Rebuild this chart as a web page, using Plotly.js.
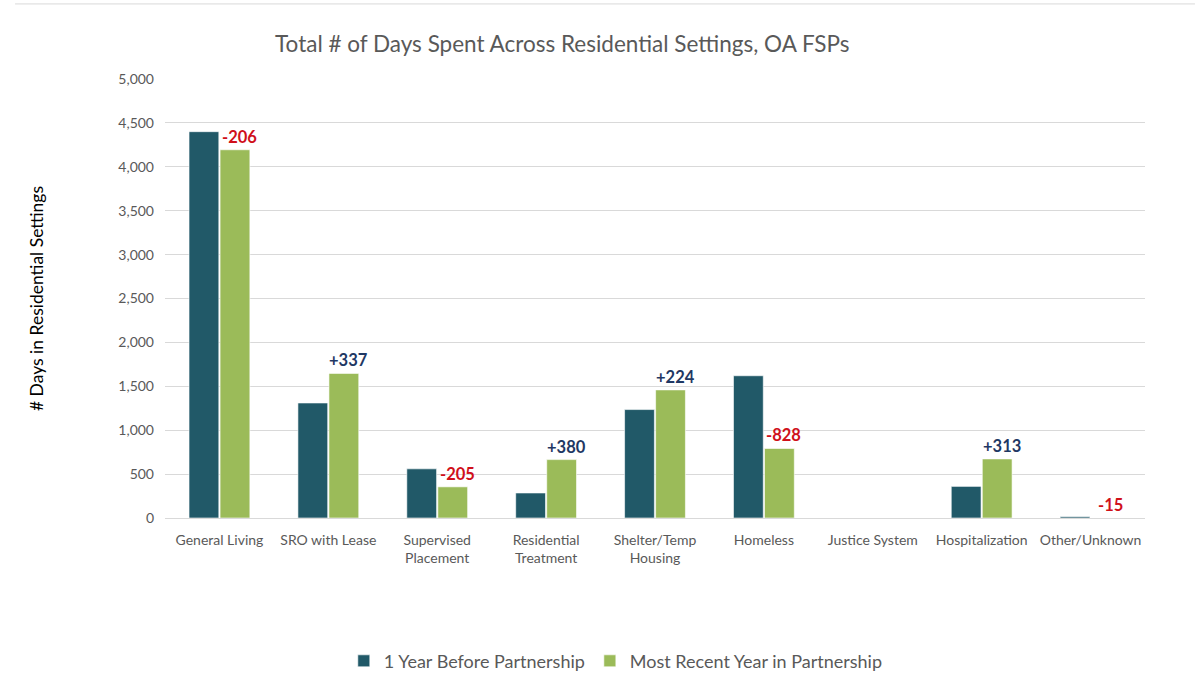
<!DOCTYPE html>
<html>
<head>
<meta charset="utf-8">
<script src="https://cdn.plot.ly/plotly-3.0.1.min.js"></script>
<style>html,body{margin:0;padding:0;background:#fff;}#chart{width:1195px;height:685px;}</style>
</head>
<body>
<div id="chart"></div>
<script>
const categories = ["General Living","SRO with Lease","Supervised<br>Placement","Residential<br>Treatment","Shelter/Temp<br>Housing","Homeless","Justice System","Hospitalization","Other/Unknown"];
const beforeValues = [4400, 1310, 560, 285, 1235, 1620, 0, 360, 15];
const recentValues = [4194, 1647, 355, 665, 1459, 792, 0, 673, 0];
const changeLabels = ["-206","+337","-205","+380","+224","-828","","+313","-15"];
const seriesNames = ["1 Year Before Partnership","Most Recent Year in Partnership"];
const yTicks = [0,500,1000,1500,2000,2500,3000,3500,4000,4500,5000];

const font = "Lato, Open Sans, sans-serif";
const traces = [
  {type:'bar', name:seriesNames[0], x:categories, y:beforeValues,
   marker:{color:'#215968', line:{color:'#ffffff', width:0.6}}, hoverinfo:'y'},
  {type:'bar', name:seriesNames[1], x:categories, y:recentValues,
   marker:{color:'#9bbb59', line:{color:'#ffffff', width:0.6}}, hoverinfo:'y'}
];

const annotations = [];
changeLabels.forEach((lab, i) => {
  if (!lab) return;
  annotations.push({
    x: categories[i], y: recentValues[i], xref:'x', yref:'y',
    text: '<b>' + lab + '</b>', showarrow:false, yanchor:'bottom', xanchor:'center',
    xshift: 20, yshift: 1,
    font:{family:font, size:16.5, color: lab.startsWith('-') ? '#d0101a' : '#1f3864'}
  });
});

const layout = {
  width:1195, height:685,
  margin:{l:165, r:50, t:79, b:167, autoexpand:false},
  paper_bgcolor:'#ffffff', plot_bgcolor:'#ffffff',
  title:{text:'Total # of Days Spent Across Residential Settings, OA FSPs', x:0.4705, xanchor:'center', y:0.935, yanchor:'middle',
         font:{family:font, size:22.5, color:'#595959'}},
  barmode:'group', bargap:0.43, bargroupgap:0.04,
  xaxis:{tickfont:{family:font, size:14, color:'#595959'}, showline:false, ticks:'', showgrid:false, zeroline:false, ticklabelstandoff:12, automargin:false},
  yaxis:{range:[0,5000], tickvals:yTicks, tickformat:',', tickfont:{family:font, size:14, color:'#595959'},
         gridcolor:'#d9d9d9', gridwidth:1, zeroline:true, zerolinecolor:'#d9d9d9', zerolinewidth:1, showline:false, ticks:'', ticklen:0,
         ticklabelstandoff:10, automargin:false,
         title:{text:'# Days in Residential Settings', standoff:70, font:{family:font, size:17.5, color:'#000000'}}},
  legend:{orientation:'h', x:0.46, xanchor:'center', y:-0.326, yanchor:'middle',
          font:{family:font, size:18, color:'#595959'}, itemwidth:30, traceorder:'normal'},
  annotations: annotations,
  shapes:[{type:'line', xref:'paper', yref:'paper', x0:-0.153, x1:1.051, y0:1.171, y1:1.171, line:{color:'#d9d9d9', width:1}}]
};

Plotly.newPlot('chart', traces, layout, {displayModeBar:false});
</script>
</body>
</html>
